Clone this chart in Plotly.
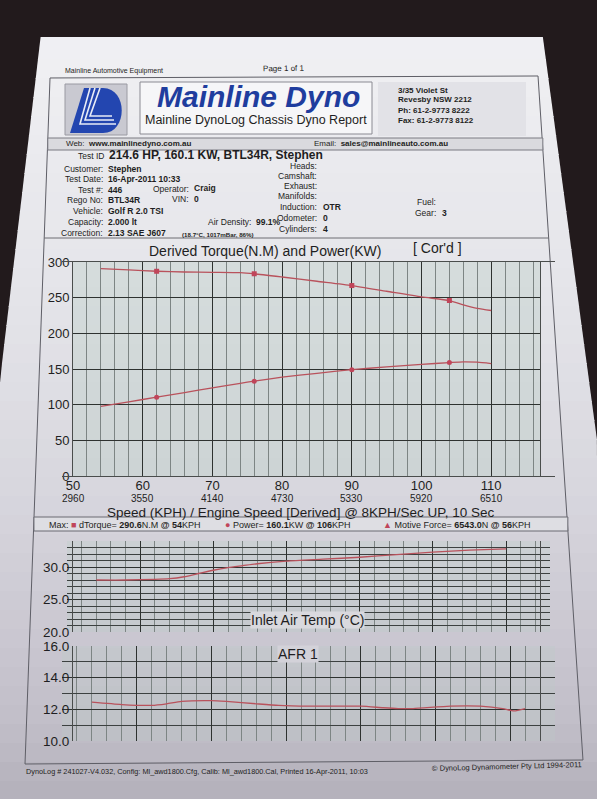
import plotly.graph_objects as go

W, H = 597, 799
FONT = "Liberation Sans, Arial, sans-serif"
INK = "#1e1e22"
CURVE = "#b9525c"

# x axis ticks: road speed and the derived engine speed under it
speed_ticks = [50, 60, 70, 80, 90, 100, 110]
rpm_ticks = [2960, 3550, 4140, 4730, 5330, 5920, 6510]

# torque / power run (kph, N.m, kW)
speed = [54, 58, 62, 66, 70, 74, 76, 80, 85, 90, 95, 100, 104, 106, 108, 110]
torque_nm = [290.6, 289, 287, 286, 285.5, 285, 283.5, 279, 273, 267, 259, 251, 246, 240, 235, 232]
power_kw = [97.5, 104, 110.5, 117, 123.5, 130, 133, 138.5, 144, 149, 153, 156.5, 159, 160.1, 159.5, 157.5]
marker_idx = [2, 6, 9, 12]

# inlet air temp (deg C)
iat_speed = [54, 58, 62, 64, 66, 68, 70, 72, 74, 76, 80, 85, 90, 95, 100, 105, 110]
iat_c = [28.0, 28.0, 28.1, 28.2, 28.5, 29.0, 29.5, 29.9, 30.2, 30.5, 30.9, 31.2, 31.5, 31.9, 32.3, 32.6, 32.8]

# air fuel ratio
afr_speed = [54, 58, 62, 64, 66, 70, 72, 76, 79, 83, 90, 93, 95, 97, 102, 106, 109, 110.5, 112]
afr = [12.45, 12.3, 12.25, 12.35, 12.5, 12.55, 12.5, 12.35, 12.25, 12.2, 12.2, 12.1, 12.05, 12.05, 12.2, 12.2, 12.05, 11.9, 12.05]


def fx(x):
    return x / W


def fy(y):
    return 1 - y / H


def mix(c0, c1, t):
    a = [int(c0[i:i + 2], 16) for i in (1, 3, 5)]
    b = [int(c1[i:i + 2], 16) for i in (1, 3, 5)]
    return "#" + "".join(f"{round(p + (q - p) * t):02x}" for p, q in zip(a, b))


def paper_left(y):
    return max(0.0, 40 - 40 * (y - 42) / (380 - 42))


def paper_right(y):
    return min(597.0, 543 + 54 * (y - 38) / (440 - 38))


def frame_left(y):
    return 50 - 25 * (y - 78) / (762 - 78)


def frame_right(y):
    return 538 + 45 * (y - 76) / (762 - 76)


fig = go.Figure()

# ---- traces -------------------------------------------------------------
line_style = dict(color=CURVE, width=1.3, shape="spline", smoothing=0.6)
fig.add_trace(go.Scatter(x=speed, y=torque_nm, mode="lines", line=line_style, xaxis="x", yaxis="y"))
fig.add_trace(go.Scatter(x=speed, y=power_kw, mode="lines", line=line_style, xaxis="x", yaxis="y"))
fig.add_trace(go.Scatter(
    x=[speed[i] for i in marker_idx], y=[torque_nm[i] for i in marker_idx], mode="markers",
    marker=dict(symbol="square", size=5, color="#c0455a"), xaxis="x", yaxis="y"))
fig.add_trace(go.Scatter(
    x=[speed[i] for i in marker_idx], y=[power_kw[i] for i in marker_idx], mode="markers",
    marker=dict(symbol="circle", size=5, color="#c0455a"), xaxis="x", yaxis="y"))
fig.add_trace(go.Scatter(x=iat_speed, y=iat_c, mode="lines", line=line_style, xaxis="x2", yaxis="y2"))
fig.add_trace(go.Scatter(x=afr_speed, y=afr, mode="lines", line=line_style, xaxis="x3", yaxis="y3"))


def x_axis(left, right, rng, labels):
    ax = dict(
        domain=[fx(left), fx(right)], range=rng, tickmode="linear", tick0=50, dtick=10,
        showgrid=True, gridcolor="#2e3230", gridwidth=1,
        minor=dict(tickmode="linear", tick0=50, dtick=2, showgrid=True, gridcolor="#7d8584", gridwidth=0.8),
        zeroline=False, showline=True, linecolor="#4a4d4c", linewidth=1, mirror=True,
        ticks="", fixedrange=True, showticklabels=False, automargin=False,
    )
    if labels:
        ax.update(
            tickmode="array", tickvals=speed_ticks, showticklabels=True,
            ticktext=[str(s) for s in speed_ticks], ticklabelstandoff=-3,
            tickfont=dict(family=FONT, size=13, color=INK),
        )
    return ax


def y_axis(top, bottom, rng, tickvals, fmt, size, minor_step=None):
    ax = dict(
        domain=[fy(bottom), fy(top)], range=rng, tickmode="array", tickvals=tickvals,
        ticktext=[fmt.format(v) for v in tickvals], tickfont=dict(family=FONT, size=size, color=INK),
        showgrid=True, gridcolor="#2e3230", gridwidth=1, zeroline=False, automargin=False,
        showline=True, linecolor="#4a4d4c", linewidth=1, mirror=True, ticks="", fixedrange=True,
    )
    if minor_step:
        ax["minor"] = dict(tickmode="linear", tick0=rng[0], dtick=minor_step, showgrid=True,
                           gridcolor="#3c4140", gridwidth=0.9)
    return ax


fig.update_layout(
    width=W, height=H, margin=dict(l=0, r=0, t=0, b=0, autoexpand=False),
    paper_bgcolor="#221a1c", plot_bgcolor="rgba(0,0,0,0)", showlegend=False,
    xaxis=x_axis(73, 540, [50, 117], True),
    yaxis=y_axis(262, 476, [0, 300], [0, 50, 100, 150, 200, 250, 300], "{:d}", 13),
    xaxis2=x_axis(67, 550, [50, 116], False),
    yaxis2=y_axis(541, 632, [20, 34], [20, 25, 30], "{:.1f}", 13.5, minor_step=1),
    xaxis3=x_axis(62, 555, [50, 116], False),
    yaxis3=y_axis(646, 741, [10, 16], [10, 12, 14, 16], "{:.1f}", 13.5, minor_step=1),
)

# ---- sheet of paper, lit from the top -------------------------------------
shapes = []
stops = [(37, "#f0f0f3"), (300, "#e4e4e9"), (500, "#d7d6dd"), (700, "#c4c1cb"), (799, "#b4b1bb")]


def shade(y):
    for (y0, c0), (y1, c1) in zip(stops, stops[1:]):
        if y <= y1:
            return mix(c0, c1, (y - y0) / (y1 - y0))
    return stops[-1][1]


def poly(pts):
    return "M " + " L ".join(f"{fx(a):.4f},{fy(b):.4f}" for a, b in pts) + " Z"


band_edges = list(range(40, 800, 19)) + [799]
for y0, y1 in zip(band_edges, band_edges[1:]):
    top = 37 if y0 == 40 else y0
    bot = y1 + 1
    pts = [(paper_left(top), top), (paper_right(top), top), (paper_right(bot), bot), (paper_left(bot), bot)]
    shapes.append(dict(type="path", path=poly(pts), xref="paper", yref="paper", layer="below",
                       fillcolor=shade((y0 + y1) / 2), line=dict(width=0)))


def rect(x0, y0, x1, y1, fill=None, line="#6d6d73", width=1, layer="below"):
    shapes.append(dict(type="rect", xref="paper", yref="paper", x0=fx(x0), x1=fx(x1), y0=fy(y1), y1=fy(y0),
                       fillcolor=fill or "rgba(0,0,0,0)", line=dict(color=line, width=width), layer=layer))


def hline(y, color="#6d6d73", width=1):
    shapes.append(dict(type="line", xref="paper", yref="paper", x0=fx(frame_left(y)), x1=fx(frame_right(y)),
                       y0=fy(y), y1=fy(y), line=dict(color=color, width=width), layer="below"))


# chart backgrounds (greenish print paper under the grids)
rect(73, 262, 540, 476, fill="rgba(186,206,198,0.38)", line="rgba(0,0,0,0)")
rect(67, 541, 550, 632, fill="rgba(186,206,198,0.32)", line="rgba(0,0,0,0)")
rect(62, 646, 555, 741, fill="rgba(186,206,198,0.28)", line="rgba(0,0,0,0)")

# report frame (slightly keystoned, as photographed)
frame = [(frame_left(78), 78), (frame_right(76), 76), (frame_right(762), 760), (frame_left(762), 764)]
shapes.append(dict(type="path", xref="paper", yref="paper", layer="below",
                   line=dict(color="#5e5e66", width=1), path=poly(frame)))

# header boxes
rect(65, 84, 127, 135, fill="#c9c9d1", line="#9a9aa2")
rect(140, 82, 372, 134, fill="#f6f6f8", line="#8a8a92")
rect(378, 82, 526, 136, fill="#e2e2e7", line="rgba(0,0,0,0)")
rect(frame_left(138), 138, frame_right(150), 150, fill="#dadade", line="#7a7a82")
hline(238)
rect(frame_left(517), 517, frame_right(531), 531, fill="#dedee3", line="#6a6a72")


# logo: slanted blue "L" joined to a "D"
def logo_path(s):
    out = []
    for tok in s.split():
        if "," in tok:
            a, b = tok.split(",")
            out.append(f"{fx(float(a)):.4f},{fy(float(b)):.4f}")
        else:
            out.append(tok)
    return " ".join(out)


shapes.append(dict(type="path", xref="paper", yref="paper",
                   path=logo_path("M 70,133 L 84,88 L 103,88 C 128,88 128,133 103,133 Z"),
                   fillcolor="#2346b0", line=dict(width=0), layer="above"))
for k in range(3):
    p = f"M {90 + 5 * k},88 L {80 + 5 * k},{124 - 4 * k} L {116 - 2 * k},{124 - 4 * k}"
    shapes.append(dict(type="path", xref="paper", yref="paper", path=logo_path(p),
                       line=dict(color="#e8ecf6", width=1.6), layer="above"))

fig.update_layout(shapes=shapes)


# ---- text ------------------------------------------------------------------
def note(x, y, text, size=8.5, anchor="left", color=INK, bold=False, bg=None, angle=0, xref="paper"):
    fig.add_annotation(
        x=fx(x) if xref == "paper" else x, y=fy(y), xref=xref, yref="paper", showarrow=False,
        xanchor=anchor, yanchor="middle", text=f"<b>{text}</b>" if bold else text, textangle=angle,
        font=dict(family=FONT, size=size, color=color), bgcolor=bg, borderpad=0,
    )


# engine speed row under the road speed tick labels
for s, r in zip(speed_ticks, rpm_ticks):
    note(s, 499, str(r), 10, anchor="center", xref="x")

note(64, 71, "Mainline Automotive Equipment", 7)
note(262, 68, "Page 1 of 1", 8, angle=-1)
note(258, 96, "<i>Mainline Dyno</i>", 30, anchor="center", color="#1f3d9e", bold=True)
note(256, 120, "Mainline DynoLog Chassis Dyno Report", 12.5, anchor="center")
for i, t in enumerate(["3/35 Violet St", "Revesby NSW 2212", "Ph: 61-2-9773 8222", "Fax: 61-2-9773 8122"]):
    note(397, 90 + 10 * i, t, 8, bold=True)
note(65, 144, "Web:  <b>www.mainlinedyno.com.au</b>", 8)
note(313, 143, "Email:  <b>sales@mainlineauto.com.au</b>", 8)

note(105, 156, "Test ID", 8.5, anchor="right")
note(108, 155, "214.6 HP, 160.1 KW, BTL34R, Stephen", 12, bold=True)
left_rows = [
    (169, "Customer:", "Stephen"),
    (179, "Test Date:", "16-Apr-2011 10:33"),
    (190, "Test #:", "446"),
    (200, "Rego No:", "BTL34R"),
    (211, "Vehicle:", "Golf R 2.0 TSI"),
    (222, "Capacity:", "2.000 lt"),
    (233, "Correction:", "2.13 SAE J607"),
]
for y, lab, val in left_rows:
    note(104, y, lab, 8.5, anchor="right")
    note(107, y, val, 8.5, bold=True)
note(190, 189, "Operator:", 8.5, anchor="right")
note(193, 188, "Craig", 8.5, bold=True)
note(190, 199, "VIN:", 8.5, anchor="right")
note(193, 199, "0", 8.5, bold=True)
note(252, 222, "Air Density:", 8.5, anchor="right")
note(255, 222, "99.1%", 8.5, bold=True)
note(181, 234, "(18.7°C, 1017mBar, 86%)", 6.2, bold=True)
right_rows = [
    (166, "Heads:", ""), (176, "Camshaft:", ""), (186, "Exhaust:", ""), (196, "Manifolds:", ""),
    (207, "Induction:", "OTR"), (218, "Odometer:", "0"), (229, "Cylinders:", "4"),
]
for y, lab, val in right_rows:
    note(318, y, lab, 8.5, anchor="right")
    if val:
        note(322, y, val, 8.5, bold=True)
note(437, 202, "Fuel:", 8.5, anchor="right")
note(437, 213, "Gear:", 8.5, anchor="right")
note(441, 213, "3", 8.5, bold=True)

note(265, 251, "Derived Torque(N.M) and Power(KW)", 14, anchor="center")
note(437, 248, "[ Cor'd ]", 14, anchor="center")
note(300, 512, "Speed (KPH) / Engine Speed [Derived] @ 8KPH/Sec UP, 10 Sec", 13.5, anchor="center")

red = "#c0455a"
note(48, 525, "Max:", 9)
note(70, 525, f"<span style='color:{red}'>■</span> dTorque= <b>290.6</b>N.M <b>@ 54</b>KPH", 9)
note(224, 525, f"<span style='color:{red}'>●</span> Power= <b>160.1</b>KW <b>@ 106</b>KPH", 9)
note(382, 525, f"<span style='color:{red}'>▲</span> Motive Force= <b>6543.0</b>N <b>@ 56</b>KPH", 9)

note(307, 620, "Inlet Air Temp (°C)", 14, anchor="center", bg="#d9d9de")
note(298, 654, "AFR 1", 14, anchor="center", bg="#d3d2d9")

note(25, 771, "DynoLog # 241027-V4.032, Config: Ml_awd1800.Cfg, Calib: Ml_awd1800.Cal, Printed 16-Apr-2011, 10:03", 7.3)
note(583, 766, "© DynoLog Dynamometer Pty Ltd 1994-2011", 7.5, anchor="right", angle=-1.5)

fig.write_html("out.html", config={"displayModeBar": False},
               post_script="document.body.style.margin='0';")
